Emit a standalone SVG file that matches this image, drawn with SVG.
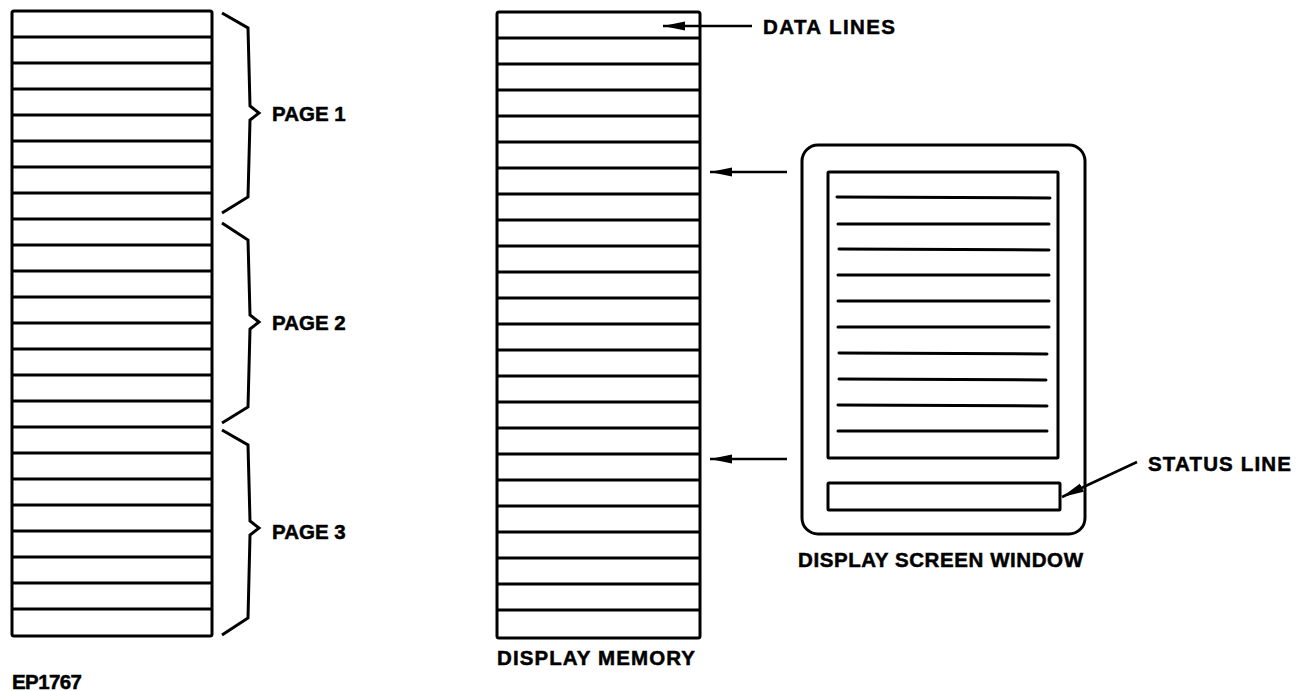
<svg xmlns="http://www.w3.org/2000/svg" width="1305" height="691" viewBox="0 0 1305 691">
  <defs>
    <style>
      .box { fill: #fff; stroke: #000; stroke-width: 3; stroke-linejoin: round; }
      .row { stroke: #000; stroke-width: 3; }
      .brace { fill: none; stroke: #000; stroke-width: 3; stroke-linejoin: miter; }
      .txt { font-family: "Liberation Sans", Arial, Helvetica, sans-serif; font-weight: bold; font-size: 20.5px; fill: #000; stroke: #000; stroke-width: 0.5; }
      .tl { stroke: #000; stroke-width: 3; stroke-linecap: round; }
      .conn { stroke: #000; stroke-width: 2.5; fill: none; }
    </style>
    <marker id="ah" viewBox="0 0 22 10" refX="22" refY="5" markerWidth="22" markerHeight="10" markerUnits="userSpaceOnUse" orient="auto-start-reverse">
      <path d="M22,5 L0,0.5 L0,9.5 Z" fill="#000"/>
    </marker>
  </defs>
  <rect width="1305" height="691" fill="#fff"/>

  <!-- Left column: pages -->
  <g id="pages-column">
    <rect class="box" x="12" y="11" width="200" height="625" rx="2"/>
    <g class="rows">
      <line class="row" x1="12" y1="37" x2="212" y2="37"/>
      <line class="row" x1="12" y1="63" x2="212" y2="63"/>
      <line class="row" x1="12" y1="89" x2="212" y2="89"/>
      <line class="row" x1="12" y1="115" x2="212" y2="115"/>
      <line class="row" x1="12" y1="141" x2="212" y2="141"/>
      <line class="row" x1="12" y1="167" x2="212" y2="167"/>
      <line class="row" x1="12" y1="193" x2="212" y2="193"/>
      <line class="row" x1="12" y1="219" x2="212" y2="219"/>
      <line class="row" x1="12" y1="245" x2="212" y2="245"/>
      <line class="row" x1="12" y1="271" x2="212" y2="271"/>
      <line class="row" x1="12" y1="297" x2="212" y2="297"/>
      <line class="row" x1="12" y1="323" x2="212" y2="323"/>
      <line class="row" x1="12" y1="349" x2="212" y2="349"/>
      <line class="row" x1="12" y1="375" x2="212" y2="375"/>
      <line class="row" x1="12" y1="401" x2="212" y2="401"/>
      <line class="row" x1="12" y1="427" x2="212" y2="427"/>
      <line class="row" x1="12" y1="453" x2="212" y2="453"/>
      <line class="row" x1="12" y1="479" x2="212" y2="479"/>
      <line class="row" x1="12" y1="505" x2="212" y2="505"/>
      <line class="row" x1="12" y1="531" x2="212" y2="531"/>
      <line class="row" x1="12" y1="557" x2="212" y2="557"/>
      <line class="row" x1="12" y1="583" x2="212" y2="583"/>
      <line class="row" x1="12" y1="609" x2="212" y2="609"/>
    </g>
  </g>

  <g id="page1">
    <path class="brace" d="M222,13 L248,28 L250,106 L259,113 L250,120 L248,197 L222,213"/>
    <text class="txt" x="272" y="121">PAGE 1</text>
  </g>
  <g id="page2">
    <path class="brace" d="M222,223 L248,240 L250,315 L259,322 L250,329 L248,407 L222,423"/>
    <text class="txt" x="272" y="330">PAGE 2</text>
  </g>
  <g id="page3">
    <path class="brace" d="M222,430 L248,445 L250,521 L259,528 L250,535 L248,618 L222,635"/>
    <text class="txt" x="272" y="539">PAGE 3</text>
  </g>

  <!-- Display memory -->
  <g id="display-memory">
    <rect class="box" x="497" y="12" width="203" height="626" rx="2"/>
    <g class="rows">
      <line class="row" x1="497" y1="38" x2="700" y2="38"/>
      <line class="row" x1="497" y1="64" x2="700" y2="64"/>
      <line class="row" x1="497" y1="90" x2="700" y2="90"/>
      <line class="row" x1="497" y1="116" x2="700" y2="116"/>
      <line class="row" x1="497" y1="142" x2="700" y2="142"/>
      <line class="row" x1="497" y1="168" x2="700" y2="168"/>
      <line class="row" x1="497" y1="194" x2="700" y2="194"/>
      <line class="row" x1="497" y1="220" x2="700" y2="220"/>
      <line class="row" x1="497" y1="246" x2="700" y2="246"/>
      <line class="row" x1="497" y1="272" x2="700" y2="272"/>
      <line class="row" x1="497" y1="298" x2="700" y2="298"/>
      <line class="row" x1="497" y1="324" x2="700" y2="324"/>
      <line class="row" x1="497" y1="350" x2="700" y2="350"/>
      <line class="row" x1="497" y1="376" x2="700" y2="376"/>
      <line class="row" x1="497" y1="402" x2="700" y2="402"/>
      <line class="row" x1="497" y1="428" x2="700" y2="428"/>
      <line class="row" x1="497" y1="454" x2="700" y2="454"/>
      <line class="row" x1="497" y1="480" x2="700" y2="480"/>
      <line class="row" x1="497" y1="506" x2="700" y2="506"/>
      <line class="row" x1="497" y1="532" x2="700" y2="532"/>
      <line class="row" x1="497" y1="558" x2="700" y2="558"/>
      <line class="row" x1="497" y1="584" x2="700" y2="584"/>
      <line class="row" x1="497" y1="610" x2="700" y2="610"/>
    </g>
    <text class="txt" x="497" y="665" textLength="198" lengthAdjust="spacing">DISPLAY MEMORY</text>
  </g>

  <!-- Display screen window -->
  <g id="display-screen-window">
    <rect class="box" x="802" y="145" width="283" height="389" rx="16"/>
    <rect class="box" x="828" y="172" width="230" height="286" rx="1"/>
    <line class="tl" x1="837" y1="197" x2="1050" y2="198"/>
    <line class="tl" x1="838" y1="224" x2="1049" y2="224"/>
    <line class="tl" x1="839" y1="249" x2="1049" y2="250"/>
    <line class="tl" x1="838" y1="275" x2="1049" y2="275"/>
    <line class="tl" x1="838" y1="301" x2="1049" y2="301"/>
    <line class="tl" x1="838" y1="327" x2="1049" y2="327"/>
    <line class="tl" x1="839" y1="353" x2="1047" y2="354"/>
    <line class="tl" x1="839" y1="379" x2="1046" y2="380"/>
    <line class="tl" x1="838" y1="405" x2="1047" y2="406"/>
    <line class="tl" x1="838" y1="431" x2="1047" y2="431"/>
    <text class="txt" x="798" y="567" textLength="285" lengthAdjust="spacing">DISPLAY SCREEN WINDOW</text>
  </g>

  <g id="status-line">
    <rect class="box" x="828" y="483" width="232" height="27" rx="1"/>
    <text class="txt" x="1148" y="471" textLength="143" lengthAdjust="spacing">STATUS LINE</text>
  </g>

  <g id="data-lines-label">
    <text class="txt" x="763" y="34" textLength="132" lengthAdjust="spacing">DATA LINES</text>
  </g>

  <g id="label-ep1767">
    <text class="txt" x="12" y="689" textLength="70" lengthAdjust="spacing">EP1767</text>
  </g>

  <!-- Connectors -->
  <g id="connectors">
    <line class="conn" x1="752" y1="26" x2="663" y2="26" marker-end="url(#ah)"/>
    <line class="conn" x1="787" y1="172" x2="710" y2="172" marker-end="url(#ah)"/>
    <line class="conn" x1="787" y1="459" x2="710" y2="459" marker-end="url(#ah)"/>
    <line class="conn" x1="1137" y1="462" x2="1062" y2="497" marker-end="url(#ah)"/>
  </g>
</svg>
